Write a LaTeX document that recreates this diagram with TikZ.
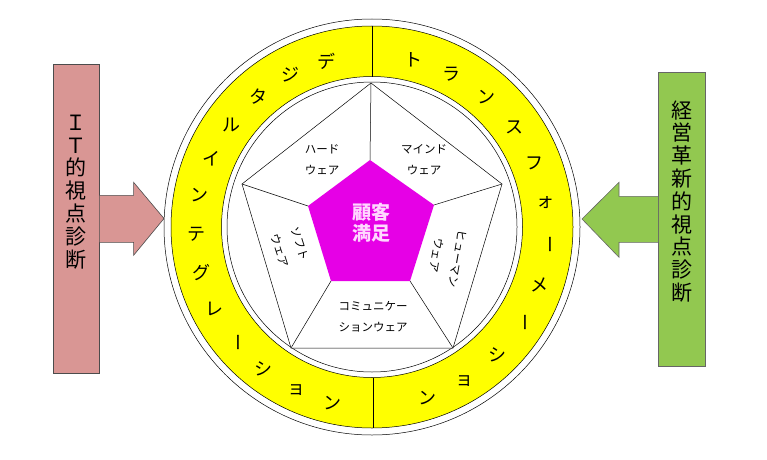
\documentclass[tikz,border=0pt]{standalone}
\usepackage{fontspec}
\setmainfont{Noto Sans CJK JP}
\usetikzlibrary{calc}
\definecolor{ringyellow}{RGB}{255,255,0}
\definecolor{itpink}{RGB}{217,150,148}
\definecolor{mgmtgreen}{RGB}{146,200,80}
\definecolor{coremagenta}{RGB}{230,0,230}
\definecolor{coretext}{RGB}{255,215,255}
\begin{document}
\begin{tikzpicture}[x=1pt,y=1pt]
\tikzstyle{every node}+=[inner sep=0pt]
\tikzstyle{ringchar}=[font=\fontsize{18}{18}\selectfont]
\tikzstyle{partlabel}=[align=center,font=\fontsize{11.5}{21}\selectfont]
\tikzstyle{sidebox}=[draw=black!70,line width=0.6,minimum width=46,anchor=north west]
\tikzstyle{sidetext}=[align=center,font=\fontsize{21}{22.8}\selectfont]
\useasboundingbox (0,0) rectangle (767,459);
\coordinate (c) at (372,232);
\coordinate (t) at (372,228);
% side boxes and arrows
\node [sidebox,fill=itpink,minimum height=309] (itbox) at (53,395) {};
\node [sidebox,fill=mgmtgreen,draw=black!60,minimum width=47,minimum height=294] (mgbox) at (658,387) {};
\coordinate (ittip) at (164,240.5);
\coordinate (mgtip) at (582,240);
\draw [fill=itpink,draw=black!70,line width=0.6] ($(itbox.east)+(0,23.5)$) -- ++(34,0) -- ++(0,13) -- (ittip)
  -- ($(itbox.east)+(34,-36.5)$) -- ++(0,13) -- ($(itbox.east)+(0,-23.5)$);
\draw [fill=mgmtgreen,draw=black!60,line width=0.6] ($(mgbox.west)+(0,23)$) -- ++(-39,0) -- ++(0,14) -- (mgtip)
  -- ($(mgbox.west)+(-39,-38)$) -- ++(0,15) -- ($(mgbox.west)+(0,-23)$);
\node [sidetext] (ittext) at (76,267) {Ｉ\\Ｔ\\的\\視\\点\\診\\断};
\node [sidetext] (mgtext) at (682,257.5) {経\\営\\革\\新\\的\\視\\点\\診\\断};
% rings
\draw [fill=white,line width=0.5] (c) circle (208);
\draw [fill=ringyellow,even odd rule,line width=0.5] (c) circle (201) (c) circle (150.5);
\draw [line width=0.5] (c) circle (145);
\draw [line width=0.5] ($(c)+(0,150.5)$) -- ++(0,50.5);
\draw [line width=0.5] ($(c)+(1,-150.5)$) -- ++(0,-50.5);
\foreach \ch [count=\i, evaluate=\i as \a using 104.9+(\i-1)*12.69] in
  {デ,ジ,タ,ル,イ,ン,テ,グ,レ,{\rotatebox{-90}{ー}},シ,ョ,ン}
  \node [ringchar] (di\i) at ([shift={(t)}]\a:176) {\ch};
\foreach \ch [count=\i, evaluate=\i as \a using 76.5-(\i-1)*13.47] in
  {ト,ラ,ン,ス,フ,ォ,{\rotatebox{-90}{ー}},メ,{\rotatebox{-90}{ー}},シ,ョ,ン}
  \node [ringchar] (tr\i) at ([shift={(t)}]\a:176) {\ch};
% pentagons
\coordinate (o1) at (371,376);
\coordinate (o2) at (502,275);
\coordinate (o3) at (453,111);
\coordinate (o4) at (291,111);
\coordinate (o5) at (242,275);
\coordinate (i1) at (370,299);
\coordinate (i2) at (434,254);
\coordinate (i3) at (410,178);
\coordinate (i4) at (331,178);
\coordinate (i5) at (308,253);
\draw [fill=white,line width=0.5] (o1) -- (o2) -- (o3) -- (o4) -- (o5) -- cycle;
\foreach \k in {1,...,5}
  \draw [line width=0.5] (o\k) -- (i\k);
\fill [coremagenta] (i1) -- (i2) -- (i3) -- (i4) -- (i5) -- cycle;
\node [partlabel] (hard) at (322,299) {ハード\\ウェア};
\node [partlabel] (mind) at (424,299) {マインド\\ウェア};
\node [partlabel,rotate=-72] (soft) at (290,212) {ソフト\\ウェア};
\node [partlabel,rotate=-100] (human) at (447,202) {ヒューマン\\ウェア};
\node [partlabel] (comm) at (373,142) {コミュニケー\\ションウェア};
\node [align=center,text=coretext,font=\fontsize{19}{21}\selectfont\bfseries] (core) at (371,236) {顧客\\満足};
\end{tikzpicture}
\end{document}
